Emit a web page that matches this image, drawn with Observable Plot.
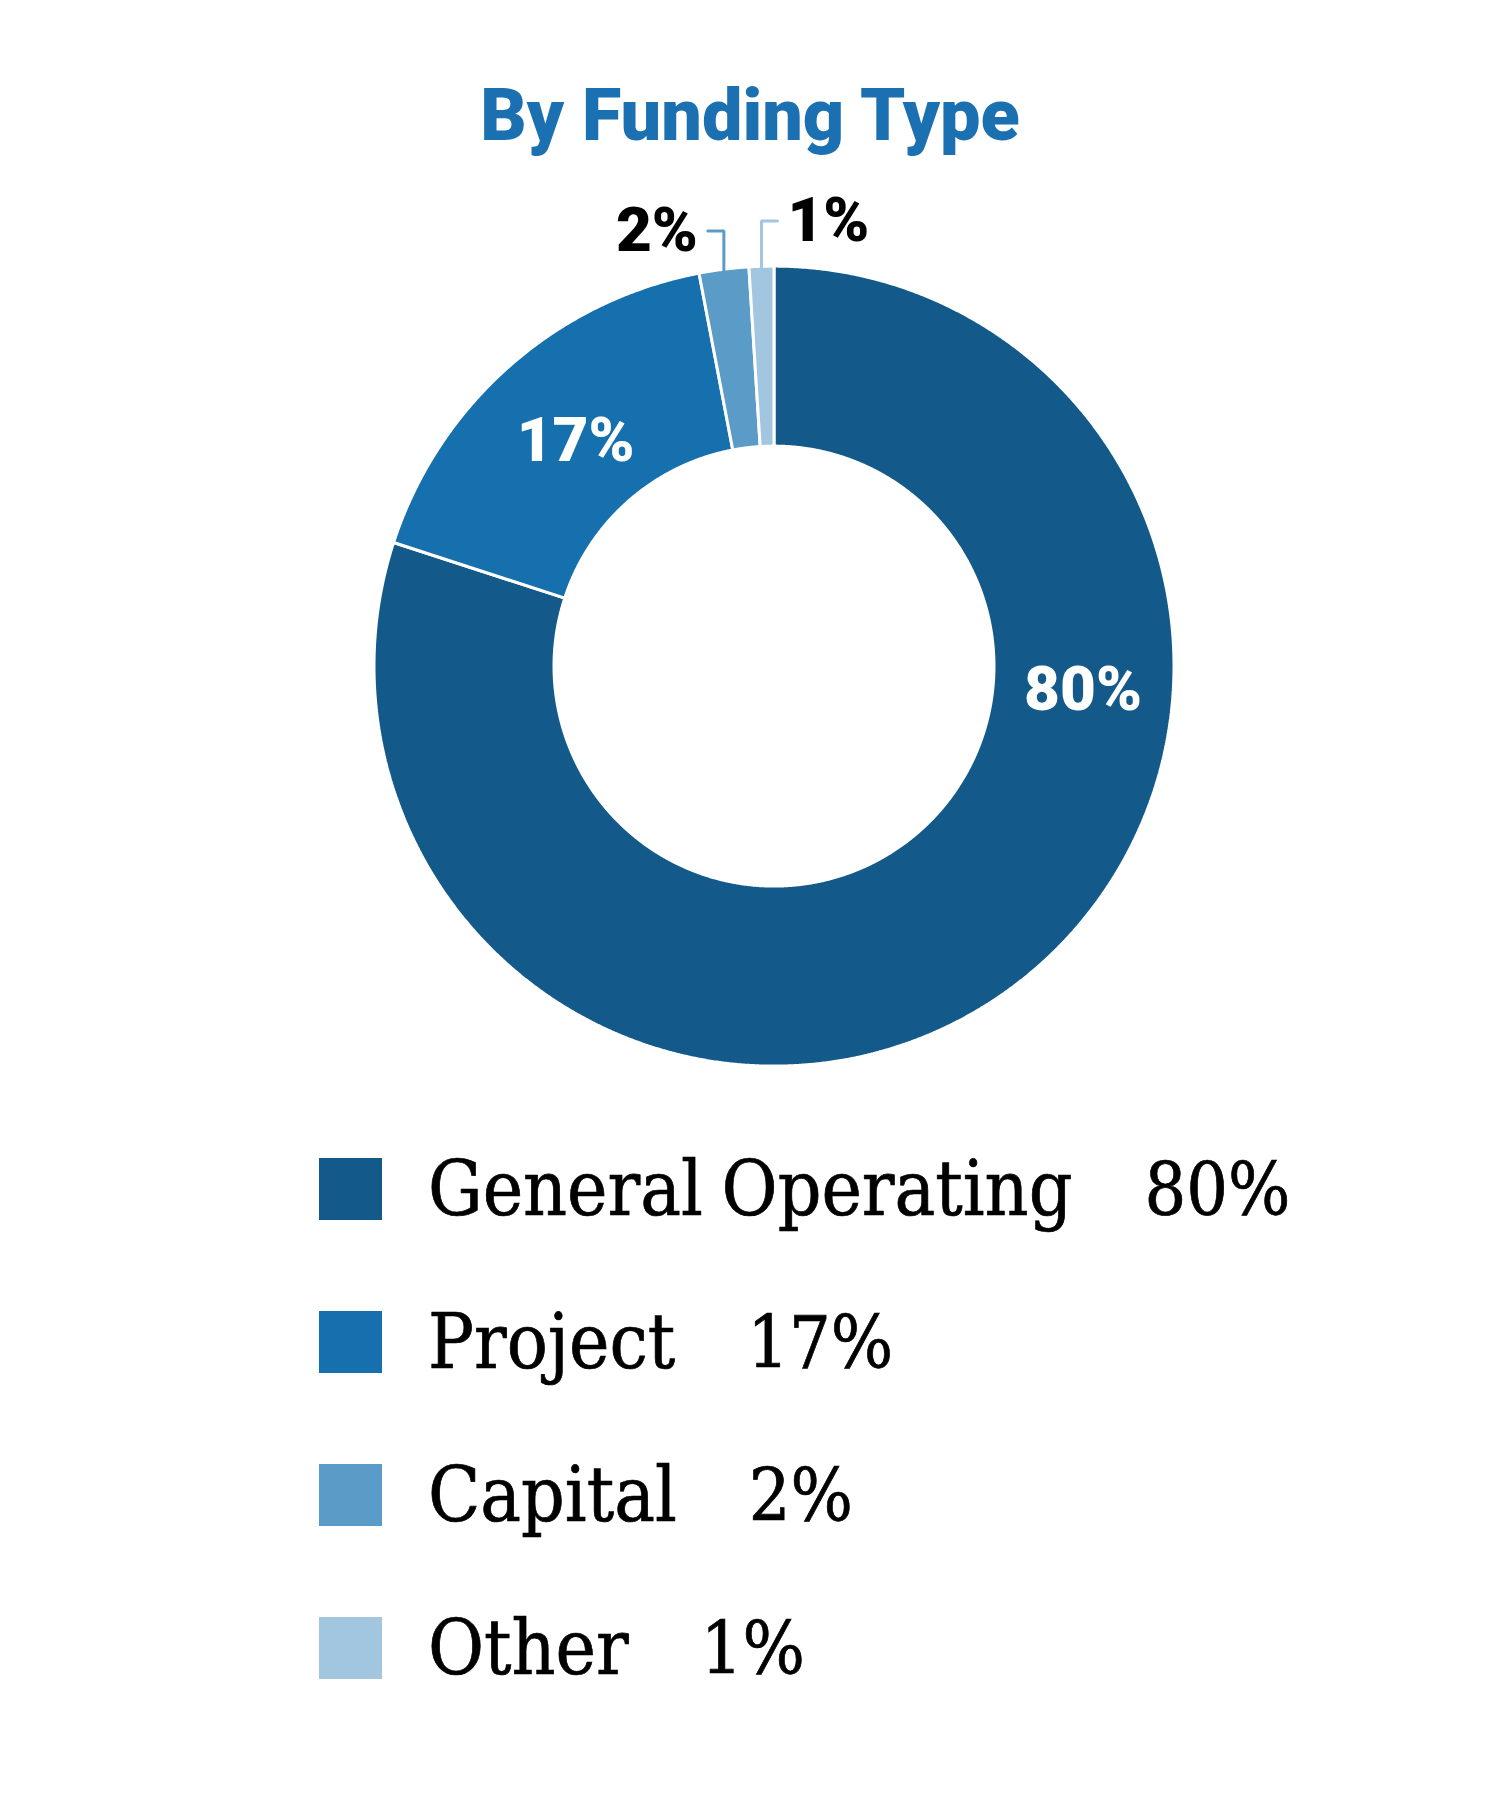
<!DOCTYPE html>
<html><head><meta charset="utf-8">
<script src="https://cdn.jsdelivr.net/npm/d3@7"></script>
<script src="https://cdn.jsdelivr.net/npm/@observablehq/plot@0.6"></script>
<style>
html,body{margin:0;padding:0;background:#fff;}
#wrap{position:relative;width:1500px;height:1800px;overflow:hidden;background:#fff;}
#title{position:absolute;left:0;top:80px;width:1500px;text-align:center;font-family:Roboto,"DejaVu Sans",sans-serif;font-weight:900;font-size:72px;line-height:1;color:#1a70b0;letter-spacing:0px;}
#chart{position:absolute;left:0;top:160px;}
#legend{position:absolute;left:319px;top:1158px;}
.row{display:flex;align-items:center;height:62px;margin-bottom:91px;}
.sw{width:63px;height:62px;margin-right:46px;flex:none;}
.name,.val{font-family:"DejaVu Serif",serif;font-stretch:condensed;font-size:76px;line-height:1;color:#000;white-space:nowrap;-webkit-text-stroke:0.7px #000;}
.name{word-spacing:-3px;}
.val{margin-left:72px;font-size:73px;}
</style>
</head><body>
<div id="wrap">
  <div id="title"></div>
  <div id="chart"></div>
  <div id="legend"></div>
</div>
<script>
const titleText = "By Funding Type";
const categories = ["General Operating", "Project", "Capital", "Other"];
const values = [80, 17, 2, 1];
const labels = ["80%", "17%", "2%", "1%"];
const colors = ["#13598a", "#1770ae", "#5b9bc7", "#a3c6e0"];

// layout constants (pixels)
const W = 1500, H = 940;
const cx = 773.5, cy = 505.6, R = 400, rInner = 220 / 400;

document.getElementById("title").textContent = titleText;

const rows = categories.map((c, i) => ({category: c, value: values[i], label: labels[i]}));
const arcs = d3.pie().sort(null).value(d => d.value)(rows);

const slicePts = [];
for (const a of arcs) {
  const n = Math.max(2, Math.ceil((a.endAngle - a.startAngle) / 0.004));
  for (let k = 0; k <= n; k++) {
    const t = a.startAngle + (a.endAngle - a.startAngle) * k / n;
    slicePts.push({category: a.data.category, x: Math.sin(t), y: Math.cos(t)});
  }
  for (let k = n; k >= 0; k--) {
    const t = a.startAngle + (a.endAngle - a.startAngle) * k / n;
    slicePts.push({category: a.data.category, x: rInner * Math.sin(t), y: rInner * Math.cos(t)});
  }
}

// inside labels
const inside = arcs.filter(a => a.data.value >= 10).map(a => {
  const big = a.data.value > 50;
  const t = big ? (94.5 * Math.PI / 180) : (a.startAngle + a.endAngle) / 2;
  const rr = big ? 0.775 : 0.75;
  return {label: a.data.label, x: rr * Math.sin(t), y: rr * Math.cos(t)};
});

// outside labels with leaders
const smalls = arcs.filter(a => a.data.value < 10);
const leaderPts = [];
const outside = [];
smalls.forEach((a, i) => {
  const t = (a.startAngle + a.endAngle) / 2;
  const x0 = Math.sin(t), y0 = Math.cos(t);
  const ky = (R + 35 + 10 * i) / R;
  const dir = i === smalls.length - 1 ? 1 : -1;
  const x1 = x0 + dir * 16 / R;
  leaderPts.push({category: a.data.category, x: x0, y: y0 - 2 / R});
  leaderPts.push({category: a.data.category, x: x0, y: ky});
  leaderPts.push({category: a.data.category, x: x1, y: ky});
  outside.push({label: a.data.label, x: x1 + dir * 10 / R, y: ky, anchor: dir > 0 ? "start" : "end"});
});

const chart = Plot.plot({
  width: W, height: H,
  marginTop: 0, marginBottom: 0, marginLeft: 0, marginRight: 0,
  x: {domain: [-cx / R, (W - cx) / R], axis: null},
  y: {domain: [-(H - cy) / R, cy / R], axis: null},
  color: {domain: categories, range: colors},
  style: {background: "transparent", overflow: "visible"},
  marks: [
    Plot.line(slicePts, {x: "x", y: "y", z: "category", fill: "category", stroke: "white", strokeWidth: 3, strokeLinejoin: "miter", curve: "linear-closed"}),
    Plot.line(leaderPts, {x: "x", y: "y", z: "category", stroke: "category", strokeWidth: 3, strokeLinejoin: "miter", curve: "linear"}),
    Plot.text(inside, {x: "x", y: "y", text: "label", fill: "white", fontSize: 62, fontWeight: 900, fontFamily: "Roboto, 'DejaVu Sans', sans-serif"}),
    Plot.text(outside.filter(d => d.anchor === "end"), {x: "x", y: "y", text: "label", textAnchor: "end", fill: "black", fontSize: 62, fontWeight: 900, fontFamily: "Roboto, 'DejaVu Sans', sans-serif"}),
    Plot.text(outside.filter(d => d.anchor === "start"), {x: "x", y: "y", text: "label", textAnchor: "start", fill: "black", fontSize: 62, fontWeight: 900, fontFamily: "Roboto, 'DejaVu Sans', sans-serif"})
  ]
});
document.getElementById("chart").appendChild(chart);

const legend = document.getElementById("legend");
rows.forEach((r, i) => {
  const row = document.createElement("div");
  row.className = "row";
  const sw = document.createElement("div");
  sw.className = "sw";
  sw.style.background = colors[i];
  const name = document.createElement("span");
  name.className = "name";
  name.textContent = r.category;
  const val = document.createElement("span");
  val.className = "val";
  val.textContent = r.label;
  row.append(sw, name, val);
  legend.appendChild(row);
});
</script>
</body></html>
